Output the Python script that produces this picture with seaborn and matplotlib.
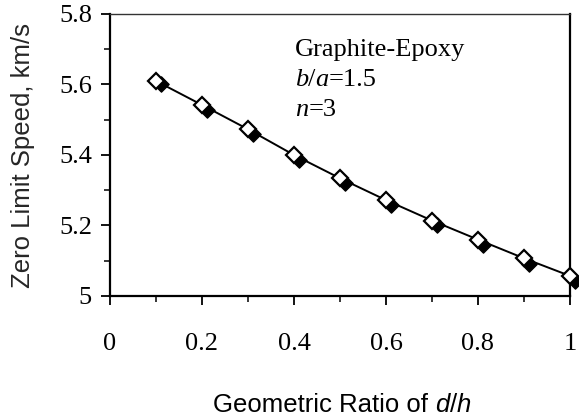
import matplotlib
matplotlib.use("Agg")
import matplotlib.pyplot as plt
import seaborn as sns
import pandas as pd
from matplotlib.offsetbox import TextArea, HPacker, VPacker, AnchoredOffsetbox
from matplotlib.ticker import MultipleLocator

ratio = [0.1, 0.2, 0.3, 0.4, 0.5, 0.6, 0.7, 0.8, 0.9, 1.0]
speed_open = [5.610, 5.542, 5.473, 5.400, 5.334, 5.272, 5.214, 5.160, 5.107, 5.057]
ratio_filled = [0.11, 0.21, 0.31, 0.41, 0.51, 0.61, 0.71, 0.81, 0.91, 1.01]
speed_filled = [5.601, 5.528, 5.459, 5.386, 5.320, 5.258, 5.200, 5.146, 5.092, 5.043]
xticks = [0, 0.2, 0.4, 0.6, 0.8, 1]
xticklabels = ["0", "0.2", "0.4", "0.6", "0.8", "1"]
yticks = [5.0, 5.2, 5.4, 5.6, 5.8]
yticklabels = ["5", "5.2", "5.4", "5.6", "5.8"]

sns.set_style("white")
plt.rcParams["font.family"] = ["Liberation Serif", "DejaVu Serif"]

fig = plt.figure(figsize=(5.79, 4.17), dpi=100)
ax = fig.add_axes([110 / 579, 1 - 296 / 417, 460 / 579, 282 / 417])

df_o = pd.DataFrame({"x": ratio, "y": speed_open})
df_f = pd.DataFrame({"x": ratio_filled, "y": speed_filled})

sns.scatterplot(data=df_f, x="x", y="y", ax=ax, marker="D", s=60,
                color="black", edgecolor="black", linewidth=1, zorder=3, clip_on=False)
sns.lineplot(data=df_o, x="x", y="y", ax=ax, color="black", linewidth=1.4,
             marker="D", markersize=8, markerfacecolor="white",
             markeredgecolor="black", markeredgewidth=1.6, zorder=4, clip_on=False)

ax.set_xlim(0, 1)
ax.set_ylim(5, 5.8)
ax.set_xticks(xticks)
ax.set_xticklabels(xticklabels)
ax.set_yticks(yticks)
ax.set_yticklabels(yticklabels)
ax.xaxis.set_minor_locator(MultipleLocator(0.1))
ax.yaxis.set_minor_locator(MultipleLocator(0.1))
ax.tick_params(axis="both", which="major", direction="out", length=6.5, width=1.3,
               labelsize=19, colors="black")
ax.tick_params(axis="both", which="minor", direction="out", length=4.5, width=1.3)
ax.tick_params(axis="x", which="major", pad=20)
ax.tick_params(axis="y", which="major", pad=6.5)
ax.xaxis.set_ticks_position("bottom")
ax.yaxis.set_ticks_position("left")
for s in ["left", "bottom", "right"]:
    ax.spines[s].set_linewidth(1.6)
    ax.spines[s].set_color("black")
ax.spines["top"].set_linewidth(1.0)
ax.spines["top"].set_color("#333333")
ax.set_xlabel("")
ax.set_ylabel("Zero Limit Speed, km/s", family="Liberation Sans", fontsize=18.5, labelpad=17)

# x label with italic parts
sans = dict(family="Liberation Sans", size=18.5, color="black")
sans_it = dict(family="Liberation Sans", size=18.5, style="italic", color="black")
xl = HPacker(children=[TextArea("Geometric Ratio of ", textprops=sans),
                       TextArea("d", textprops=sans_it),
                       TextArea("/", textprops=sans),
                       TextArea("h", textprops=sans_it)], pad=0, sep=0, align="baseline")
ab = AnchoredOffsetbox(loc="center", child=xl, frameon=False,
                       bbox_to_anchor=(0.505, -0.385), bbox_transform=ax.transAxes,
                       pad=0, borderpad=0)
ax.add_artist(ab)

serif = dict(family="Liberation Serif", size=19, color="black")
serif_it = dict(family="Liberation Serif", size=19, style="italic", color="black")
line1 = TextArea("Graphite-Epoxy", textprops=serif)
line2 = HPacker(children=[TextArea("b", textprops=serif_it), TextArea("/", textprops=serif),
                          TextArea("a", textprops=serif_it), TextArea("=1.5", textprops=serif)],
                pad=0, sep=0, align="baseline")
line3 = HPacker(children=[TextArea("n", textprops=serif_it), TextArea("=3", textprops=serif)],
                pad=0, sep=0, align="baseline")
ann = VPacker(children=[line1, line2, line3], pad=0, sep=5.5, align="left")
ab2 = AnchoredOffsetbox(loc="upper left", child=ann, frameon=False,
                        bbox_to_anchor=(0.402, 0.91), bbox_transform=ax.transAxes,
                        pad=0, borderpad=0)
ax.add_artist(ab2)

fig.savefig("out.png", dpi=100)
